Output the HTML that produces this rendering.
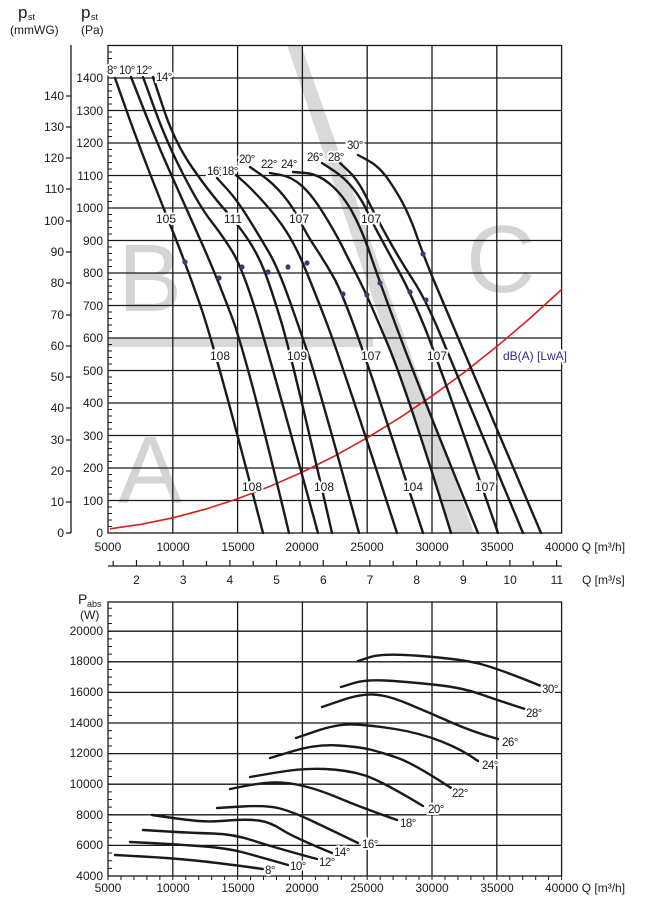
<!DOCTYPE html>
<html><head><meta charset="utf-8"><style>
html,body{margin:0;padding:0;background:#fff}
svg{display:block}
text{font-family:"Liberation Sans",Arial,sans-serif;fill:#1a1a1a}
.t{font-size:12px}
.g{stroke:#1a1a1a;stroke-width:1.3;fill:none}
.c{stroke:#1a1a1a;stroke-width:2.4;fill:none;stroke-linejoin:round;stroke-linecap:round}
.db{font-size:12px;fill:#2e2d7c;stroke:#fff;stroke-width:4;paint-order:stroke}
.al{font-size:11.5px;letter-spacing:-0.5px;stroke:#fff;stroke-width:4;paint-order:stroke}
</style></head><body>
<svg width="651" height="918" viewBox="0 0 651 918" xmlns="http://www.w3.org/2000/svg">
<text x="18" y="18" style="font-size:17px">p</text><text x="28" y="20" style="font-size:9px">st</text>
<text x="10" y="34" class="t">(mmWG)</text>
<text x="81" y="18" style="font-size:17px">p</text><text x="91" y="20" style="font-size:9px">st</text>
<text x="81" y="34" class="t">(Pa)</text>

<polygon points="287,45 301,45 474,533 452,533" fill="#d9d9d9"/>
<rect x="108" y="338" width="265" height="9" fill="#d9d9d9"/>
<text x="118" y="311" style="font-size:96px;fill:#d4d4d4">B</text>
<text x="118" y="503" style="font-size:96px;fill:#d4d4d4">A</text>
<text x="466" y="292" style="font-size:96px;fill:#d4d4d4">C</text>

<g class="g">
<rect x="108" y="45.5" width="453.6" height="487.5"/>
<path d="M172.8 45.5V533M237.6 45.5V533M302.4 45.5V533M367.2 45.5V533M432 45.5V533M496.8 45.5V533"/>
<path d="M108 500.5H561.6M108 468H561.6M108 435.5H561.6M108 403H561.6M108 370.5H561.6M108 338H561.6M108 305.5H561.6M108 273H561.6M108 240.5H561.6M108 208H561.6M108 175.5H561.6M108 143H561.6M108 110.5H561.6M108 78H561.6"/>
<path d="M71 45V533M66 533H71M66 502H71M66 471H71M66 440H71M66 408H71M66 377H71M66 346H71M66 315H71M66 283H71M66 252H71M66 221H71M66 189H71M66 158H71M66 127H71M66 96H71"/>
</g>
<!-- minor ticks -->
<path d="M110 533.5V45" stroke="#1a1a1a" stroke-width="4" stroke-dasharray="1 5.5" fill="none"/>
<g class="t" text-anchor="end">
<text x="103" y="537">0</text><text x="103" y="505">100</text><text x="103" y="472">200</text><text x="103" y="440">300</text><text x="103" y="407">400</text><text x="103" y="375">500</text><text x="103" y="342">600</text><text x="103" y="310">700</text><text x="103" y="277">800</text><text x="103" y="245">900</text><text x="103" y="212">1000</text><text x="103" y="180">1100</text><text x="103" y="147">1200</text><text x="103" y="115">1300</text><text x="103" y="82">1400</text>
<text x="64" y="537">0</text><text x="64" y="506">10</text><text x="64" y="475">20</text><text x="64" y="444">30</text><text x="64" y="412">40</text><text x="64" y="381">50</text><text x="64" y="350">60</text><text x="64" y="319">70</text><text x="64" y="287">80</text><text x="64" y="256">90</text><text x="64" y="225">100</text><text x="64" y="193">110</text><text x="64" y="162">120</text><text x="64" y="131">130</text><text x="64" y="100">140</text>
</g>
<g class="t" text-anchor="middle">
<text x="108" y="551">5000</text><text x="173" y="551">10000</text><text x="238" y="551">15000</text><text x="302" y="551">20000</text><text x="367" y="551">25000</text><text x="432" y="551">30000</text><text x="497" y="551">35000</text>
</g>
<text x="545" y="551" class="t">40000 Q [m³/h]</text>
<path d="M108 566H562" class="g"/>
<path stroke="#1a1a1a" stroke-width="1.2" d="M113.2 566V561M136.5 566V560M159.8 566V561M183.2 566V560M206.5 566V561M229.9 566V560M253.2 566V561M276.5 566V560M299.9 566V561M323.2 566V560M346.5 566V561M369.9 566V560M393.2 566V561M416.6 566V560M439.9 566V561M463.2 566V560M486.6 566V561M509.9 566V560M533.2 566V561M556.6 566V560"/>
<g class="t" text-anchor="middle">
<text x="136.5" y="584">2</text><text x="183.2" y="584">3</text><text x="229.9" y="584">4</text><text x="276.6" y="584">5</text><text x="323.3" y="584">6</text><text x="370" y="584">7</text><text x="416.7" y="584">8</text><text x="463.4" y="584">9</text><text x="510.1" y="584">10</text><text x="556.8" y="584">11</text>
</g>
<text x="582" y="584" class="t">Q [m³/s]</text>

<polyline fill="none" stroke="#d42020" stroke-width="1.6" points="110,528.8 140.4,524.4 172.9,517.8 205.3,509.2 237.7,498.7 270.1,486.3 302.6,472 335,455.8 367.4,437.7 399.8,417.7 432.3,395.8 464.7,372 497.1,346.3 529.6,318.6 562,289.1"/>

<g class="c">
<path d="M115 78 L126.5 110.5 Q138 143 150.5 175 Q163 207 174 234.5 Q185 262 200 304.5 Q215 347 263 533"/>
<path d="M131 77 L144 110 Q157 143 172 176.5 Q187 210 201.5 242.5 Q216 275 231.5 316 Q247 357 289 533"/>
<path d="M143 77 L155 110 Q167 143 183.5 175 Q200 207 211 221 Q222 235 232 251 Q242 267 256 312 Q270 357 318 533"/>
<path d="M153 77 L164 110 Q175 143 192.5 168 Q210 193 225 210 Q240 227 249 241 Q258 255 264 270 Q270 285 281 321 Q292 357 332 533"/>
<path d="M217 178 L227 189 Q237 200 248.5 218.5 Q260 237 269 252.5 Q278 268 289 299 Q300 330 308.5 355 Q317 380 359 533"/>
<path d="M230 170 L240 178.5 Q250 187 263.5 202 Q277 217 286 231 Q295 245 302.5 262.5 Q310 280 325 318.5 Q340 357 397 533"/>
<path d="M250 167 L261.5 175 Q273 183 283 195 Q293 207 300 221 Q307 235 316 248.5 Q325 262 334 278 Q343 294 361.5 347 Q380 400 423 533"/>
<path d="M270 173 L281 175 Q292 177 302 186 Q312 195 323.5 213.5 Q335 232 342.5 247 Q350 262 358.5 278.5 Q367 295 387 342.5 Q407 390 451 533"/>
<path d="M293 172 L305.5 173 Q318 174 330.5 184.5 Q343 195 352.5 212.5 Q362 230 371 256.5 Q380 283 400 336.5 Q420 390 478 533"/>
<path d="M322 163 L333.5 170.5 Q345 178 353.5 189 Q362 200 366.5 210 Q371 220 380.5 237.5 Q390 255 400 273.5 Q410 292 423.5 324.5 Q437 357 498 533"/>
<path d="M340 163 L349 171.5 Q358 180 366.5 197.5 Q375 215 387.5 237.5 Q400 260 413 280 Q426 300 440.5 335 Q455 370 523 533"/>
<path d="M358 155 L369 161 Q380 167 390 182 Q400 197 406 209.5 Q412 222 417.5 238 Q423 254 433 278.5 Q443 303 541 533"/>
</g>
<g fill="#3a3a7a">
<circle cx="185" cy="262" r="2.6"/><circle cx="219" cy="278" r="2.6"/><circle cx="242" cy="267" r="2.6"/><circle cx="268" cy="272" r="2.6"/><circle cx="288" cy="267" r="2.6"/><circle cx="307" cy="263" r="2.6"/><circle cx="343" cy="294" r="2.6"/><circle cx="367" cy="295" r="2.6"/><circle cx="380" cy="283" r="2.6"/><circle cx="410" cy="292" r="2.6"/><circle cx="426" cy="300" r="2.6"/><circle cx="423" cy="254" r="2.6"/>
</g>
<g class="db" text-anchor="middle">
<text x="166" y="223">105</text><text x="233" y="223">111</text><text x="299" y="223">107</text><text x="371" y="223">107</text>
<text x="220" y="360">108</text><text x="297" y="360">109</text><text x="371" y="360">107</text><text x="437" y="360">107</text>
<text x="252" y="491">108</text><text x="324" y="491">108</text><text x="413" y="491">104</text><text x="485" y="491">107</text>
</g>
<text x="503" y="360" class="db">dB(A) [LwA]</text>
<g class="al">
<text x="107" y="74">8°</text><text x="119" y="74">10°</text><text x="136" y="74">12°</text><text x="156" y="81">14°</text>
<text x="207" y="175">16°</text><text x="222" y="175">18°</text><text x="239" y="163">20°</text>
<text x="261" y="168">22°</text><text x="281" y="168">24°</text><text x="307" y="161">26°</text><text x="328" y="161">28°</text><text x="347" y="149">30°</text>
</g>

<text x="78" y="604" style="font-size:14px">P</text><text x="87" y="607" style="font-size:9px">abs</text>
<text x="80" y="619" class="t">(W)</text>
<g class="g">
<rect x="108" y="602" width="453.6" height="274"/>
<path d="M172.8 602V876M237.6 602V876M302.4 602V876M367.2 602V876M432 602V876M496.8 602V876"/>
<path d="M108 845.4H561.6M108 814.8H561.6M108 784.2H561.6M108 753.6H561.6M108 723H561.6M108 692.4H561.6M108 661.8H561.6M108 631.2H561.6"/>
</g>
<path d="M110 876.5V602" stroke="#1a1a1a" stroke-width="4" stroke-dasharray="1 6.65" fill="none"/>
<path d="M107.5 878H562" stroke="#1a1a1a" stroke-width="4" stroke-dasharray="1 11.96" fill="none"/>
<g class="t" text-anchor="end">
<text x="103" y="880">4000</text><text x="103" y="849">6000</text><text x="103" y="819">8000</text><text x="103" y="788">10000</text><text x="103" y="757">12000</text><text x="103" y="727">14000</text><text x="103" y="696">16000</text><text x="103" y="665">18000</text><text x="103" y="635">20000</text>
</g>
<g class="t" text-anchor="middle">
<text x="108" y="892">5000</text><text x="173" y="892">10000</text><text x="238" y="892">15000</text><text x="302" y="892">20000</text><text x="367" y="892">25000</text><text x="432" y="892">30000</text><text x="497" y="892">35000</text>
</g>
<text x="545" y="892" class="t">40000 Q [m³/h]</text>

<g class="c">
<path d="M115 855 L142.5 856.5 Q170 858 195 860.5 Q220 863 263 869"/>
<path d="M130 842 L150 843 Q170 844 198.5 846 Q227 848 243.5 852.5 Q260 857 288 865"/>
<path d="M143 830 L168 831.5 Q193 833 213 833.5 Q233 834 253 840.5 Q273 847 317 859"/>
<path d="M152 815 L169.5 817.5 Q187 820 198.5 821 Q210 822 228.5 820.5 Q247 819 258.5 820.5 Q270 822 281.5 829.5 Q293 837 332 853"/>
<path d="M217 808 L242 806.5 Q267 805 280 808.5 Q293 812 310 820 Q327 828 358 843"/>
<path d="M230 789 L245 786 Q260 783 273.5 782.5 Q287 782 303.5 786 Q320 790 340 798.5 Q360 807 397 820"/>
<path d="M250 777 L276.5 772.5 Q303 768 325 769 Q347 770 363.5 775 Q380 780 423 806"/>
<path d="M270 758 L293.5 751 Q317 744 338.5 745.5 Q360 747 370 749.5 Q380 752 396.5 757.5 Q413 763 451 788"/>
<path d="M296 738 L316.5 731 Q337 724 353.5 724.5 Q370 725 395 729 Q420 733 441.5 741.5 Q463 750 478 761"/>
<path d="M322 707 L341 700.5 Q360 694 373.5 694.5 Q387 695 408.5 704 Q430 713 451.5 722.5 Q473 732 498 739"/>
<path d="M341 687 L354 683 Q367 679 393.5 681 Q420 683 441.5 685.5 Q463 688 480 694 Q497 700 525 709"/>
<path d="M358 661 L370.5 657 Q383 653 421.5 656 Q460 659 478.5 663.5 Q497 668 541 686"/>
</g>
<g class="al">
<text x="265" y="874">8°</text><text x="290" y="870">10°</text><text x="319" y="866">12°</text><text x="334" y="856">14°</text><text x="362" y="848">16°</text><text x="400" y="827">18°</text><text x="428" y="813">20°</text><text x="452" y="797">22°</text><text x="482" y="769">24°</text><text x="502" y="746">26°</text><text x="526" y="717">28°</text><text x="542" y="693">30°</text>
</g>
</svg>
</body></html>
